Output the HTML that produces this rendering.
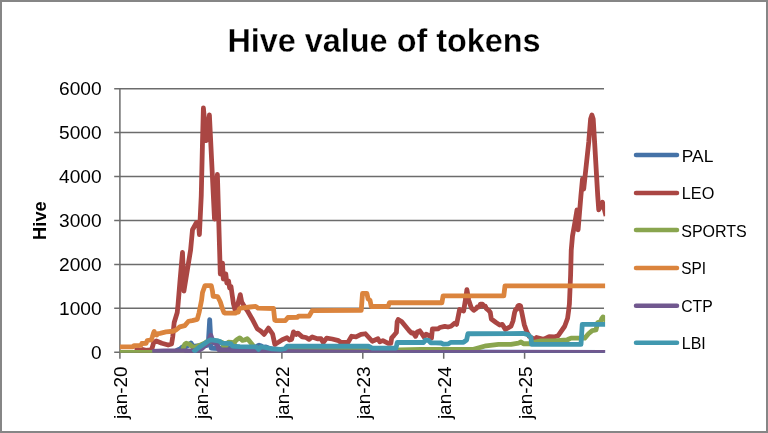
<!DOCTYPE html>
<html><head><meta charset="utf-8"><title>Hive value of tokens</title>
<style>
html,body{margin:0;padding:0;background:#fff;}
body{width:768px;height:433px;overflow:hidden;position:relative;font-family:"Liberation Sans",sans-serif;}
svg{position:absolute;left:0;top:0;display:block;will-change:transform}
text{font-family:"Liberation Sans",sans-serif;fill:#000}
.t text{font-size:18.2px}
.lg text{font-size:17px}
.s path{fill:none;stroke-width:4.8;stroke-linejoin:round;stroke-linecap:butt}
.l path{fill:none;stroke-width:4.5;stroke-linecap:round}
</style></head><body>
<svg width="768" height="433" viewBox="0 0 768 433">
<rect x="1" y="1" width="766" height="431" fill="#fff" stroke="#868686" stroke-width="2"/>
<g stroke="#6c6c6c" stroke-width="1.5" fill="none">
<path d="M114.2 88.7H604M114.2 132.6H604M114.2 176.5H604M114.2 220.5H604M114.2 264.4H604M114.2 308.3H604M114.2 352.25H604"/>
<path d="M119.9 88V358.7M201.0 352V358.7M281.9 352V358.7M362.8 352V358.7M443.7 352V358.7M524.6 352V358.7"/>
</g>
<clipPath id="pa"><rect x="119.9" y="80" width="485.2" height="272.85"/></clipPath>
<g class="s" clip-path="url(#pa)">
<path stroke="#4572A7" d="M152 352 175.5 351.5 177.5 350 180 349 182.5 346.8 185 347 189 345 191 343 193 346.5 197 346 203 345.5 206.7 345.5 208.2 345 209.7 319.6 211.2 348 214 348.3 220 348.5 240 348.5 254 348 255.5 347.5 257.5 346 259.1 345.2 261.5 346 263 347.2 266 347 268 347.8 272 349 277 349.2 279 350.5 290 351.5 610 352.4"/>
<path stroke="#AA4643" d="M134.75 350.3 138 349.6 140 350.4 142.9 349.5 146 350.3 150.4 349.8 152 348.5 153.5 343.2 156.3 341 161.9 343.3 168.1 345 171.6 344 172.7 337 174.2 322.5 177.25 312.5 178.1 304 180 281 182.5 252.5 183.9 291 190.6 250 192.5 229.75 196.5 222.5 198.5 222 199.4 234.5 201.25 196 202.5 142 203.4 108 206.3 140.5 209.4 115 214.5 219 217.4 174.5 219.6 250 220.3 274 222.5 263 223.3 279 225.8 274 226.8 283 228.6 281 229.6 288 231 286.5 232.2 295 233.5 304 235.6 312 238 303.3 240.3 294.6 241.7 302 243.4 304.8 247.1 310.3 252 318.7 257.25 328.75 261 331.25 264.1 334.4 268.5 328.1 272.6 334 274.8 344.3 278.8 342 282.25 339.75 287 337.8 289.4 340 291.6 339.4 293.5 331.9 296 334.4 297.9 333.1 302.25 336.9 306 337.5 309.1 339.4 312.25 336.9 317.25 338.75 321 338.75 323.25 342.5 326.6 338.1 332.25 339 338.5 340.6 341 342.5 347.9 342.5 351.6 336.25 356 336.9 361 334.4 365.4 333.75 368.8 337.5 372.25 341.25 377.9 338.75 379.75 341.9 382.9 340.6 388.3 343.3 390.8 343.3 391.7 337.8 394 335.3 396.4 332.5 397.2 321.5 398.2 319.5 401.6 321.5 405.7 326.5 409 330.5 411.5 333.2 413.2 332.8 415.6 336.3 417.3 332 419.8 330.8 422.3 334.3 424 337 426.1 334.2 428.8 335.5 431.5 338 432.4 329 438.3 328.8 439.8 327.5 444.8 326.3 448 327 451 326.25 454.75 323.1 456.6 324.4 459.6 309.5 463.6 311 465.6 299 466.9 289.6 468.75 300.25 471.25 307.75 473.8 310.3 476.5 308.3 477.3 306.8 479.5 306.8 480.3 304.2 482.6 304.2 483.4 306.2 485.3 306.2 486.2 308.3 488 309.8 489.2 311 490.3 312.5 491.3 319 496 322.5 499.75 325 502.25 324.4 505.4 329.4 511 326.25 513 321 514.6 312.5 515.6 309.5 517 309.3 517.8 306 519 305.3 520.6 306 521.3 310 524.25 324.6 526.75 331.7 529.3 336.5 534.75 339.4 536.6 337.5 543.5 339.4 549.1 336.7 554.1 337 558 335.8 564.7 326.25 567.6 318.3 568.7 310 569.4 304 570.6 275 571.25 250 572.5 236 575 222 577 210 578.1 229.75 580.9 196 582.5 179 583.7 189 588.75 142 590.6 119 591.9 115 593.2 119 594.6 142 597.75 196 598.75 209.75 602.5 202.25 606 216"/>
<path stroke="#89A54E" d="M115 352.4 152 352.4 178 352.3 182.6 351 183.6 347 184.8 344.2 186.25 343.2 189 344 191 345.5 193 347.3 196 347 200 345.1 205 343 207.5 341.2 210 341 214 341 218 341.2 220.5 342 222.3 342.6 223.5 346 226 346 227.3 343.5 228.5 342.2 232 342.3 234 343.5 235.2 341.3 237 339.5 239.75 337.9 242.5 340.4 244.5 340 247.25 338.8 249.2 340.8 251.2 343.2 254 346.8 256 348 265 349 280 350.4 390 350.3 399.75 350 421 349.4 473.5 349.4 486 345.8 498.5 344.4 511 344.4 518.5 343.1 521 341.9 523.5 343.75 529.75 343.75 535 342 541 340.8 553.5 340.8 567 340 569 339 571 338.1 584.75 338.1 588.5 333.75 592.25 330.6 596 330 597.7 322.5 600.3 321.8 601.6 319 603 317 604.2 317.6 606 321.5"/>
<path stroke="#DB843D" d="M115 346.9 132.5 346.9 134 345.6 140.8 345.4 141.8 343.5 146.2 343.3 147.2 340.5 151.3 339.8 152.3 337 153.4 333.5 154.2 331.5 155.2 334.5 156.7 335 158 333.6 160 333.3 166 331.9 172.9 331.25 176 330 179.75 326.9 184.75 325.6 188.5 321.25 192.25 320.6 197.25 319.4 199.1 312.5 201.6 300 202.5 292.5 205 285.6 211.25 285.6 212.5 291.25 213.1 296.25 217.75 296.7 220.25 301.7 222.3 308.3 224 312.6 225 313.1 235.75 313.1 236.5 312.3 238.3 312.1 239.2 309.3 240.3 308.2 243 307.9 250 307 255.7 306.4 258.2 308.2 273.5 308.5 274.75 320 276 320.6 285.4 320.6 287.9 317.5 297.5 317.3 298.5 316.1 309.1 316 312.25 310.6 361.25 310.25 362.5 293.4 366.9 293.4 368.1 299 370 300.25 371.25 306.5 388.1 306.5 389.4 302.75 441.9 302.75 443.1 295.9 503.8 295.9 505 285.9 610 285.9"/>
<path stroke="#71588F" d="M152.25 351.3 163.75 350.8 185 351 193 351 199 350.3 202 348.5 204.5 346.2 208.25 342.8 209.6 338.5 210.75 335.2 212 338.5 213.2 342 215.75 343.7 217.5 344.5 218.9 349.8 231 350 233 351 250 351.3 300 351.6 400 352.3 610 352.5"/>
<path stroke="#4198AF" d="M193.25 352.5 195 350.6 198.25 348 204.5 343.7 208 341.3 210.1 340 213 340.2 218.25 340.9 220 341.5 221.6 343.2 230.75 343.6 232.6 346.1 240 346.6 256 346.9 258.5 349.4 261 346.9 265 347.5 272 348.8 281 349.4 284.75 348.75 287.25 346.25 368.5 346.25 372.25 348.1 396 348.1 397.25 342.5 423.5 342.5 425.2 340.2 428.6 340.3 430.8 342.8 436 342.8 441 343 443.3 344.2 448.5 343.8 451 342.3 463.5 342.3 466.6 340 467.9 333.75 523.5 333.5 527.9 334.6 531 337.5 531.6 344.4 581 344.4 582.25 324.4 610 324.4"/>
</g>
<text id="title" x="384" y="51.6" text-anchor="middle" font-size="32.4" font-weight="bold" stroke="#fff" stroke-width="0.3">Hive value of tokens</text>
<g class="t" text-anchor="end">
<text x="101.6" y="95.2" textLength="42.6" lengthAdjust="spacingAndGlyphs">6000</text>
<text x="101.6" y="139.1" textLength="42.6" lengthAdjust="spacingAndGlyphs">5000</text>
<text x="101.6" y="183" textLength="42.6" lengthAdjust="spacingAndGlyphs">4000</text>
<text x="101.6" y="227" textLength="42.6" lengthAdjust="spacingAndGlyphs">3000</text>
<text x="101.6" y="270.9" textLength="42.6" lengthAdjust="spacingAndGlyphs">2000</text>
<text x="101.6" y="314.8" textLength="42.6" lengthAdjust="spacingAndGlyphs">1000</text>
<text x="101.6" y="358.7" textLength="10.6" lengthAdjust="spacingAndGlyphs">0</text>
</g>
<text id="ylab" transform="translate(46.3 220.6) rotate(-90)" text-anchor="middle" font-size="17.8" font-weight="bold" textLength="38.6" lengthAdjust="spacingAndGlyphs">Hive</text>
<g class="t" text-anchor="end">
<text transform="translate(127.3 366.4) rotate(-90)" textLength="52.7" lengthAdjust="spacingAndGlyphs">jan-20</text>
<text transform="translate(208.3 366.4) rotate(-90)" textLength="52.7" lengthAdjust="spacingAndGlyphs">jan-21</text>
<text transform="translate(289.2 366.4) rotate(-90)" textLength="52.7" lengthAdjust="spacingAndGlyphs">jan-22</text>
<text transform="translate(370.1 366.4) rotate(-90)" textLength="52.7" lengthAdjust="spacingAndGlyphs">jan-23</text>
<text transform="translate(451 366.4) rotate(-90)" textLength="52.7" lengthAdjust="spacingAndGlyphs">jan-24</text>
<text transform="translate(531.9 366.4) rotate(-90)" textLength="52.7" lengthAdjust="spacingAndGlyphs">jan-25</text>
</g>
<g class="l">
<path stroke="#4572A7" d="M636 155H677"/>
<path stroke="#AA4643" d="M636 193H677"/>
<path stroke="#89A54E" d="M636 230H677"/>
<path stroke="#DB843D" d="M636 267.9H677"/>
<path stroke="#71588F" d="M636 305.8H677"/>
<path stroke="#4198AF" d="M636 342.8H677"/>
</g>
<g class="lg">
<text x="681.8" y="161.6" textLength="31.5" lengthAdjust="spacingAndGlyphs">PAL</text>
<text x="681.8" y="199.2" textLength="32.5" lengthAdjust="spacingAndGlyphs">LEO</text>
<text x="681.2" y="236.6" textLength="65.6" lengthAdjust="spacingAndGlyphs">SPORTS</text>
<text x="681.2" y="274.2" textLength="24.8" lengthAdjust="spacingAndGlyphs">SPI</text>
<text x="681.2" y="311.8" textLength="31.5" lengthAdjust="spacingAndGlyphs">CTP</text>
<text x="681.8" y="349.2" textLength="24" lengthAdjust="spacingAndGlyphs">LBI</text>
</g>
</svg>
</body></html>
